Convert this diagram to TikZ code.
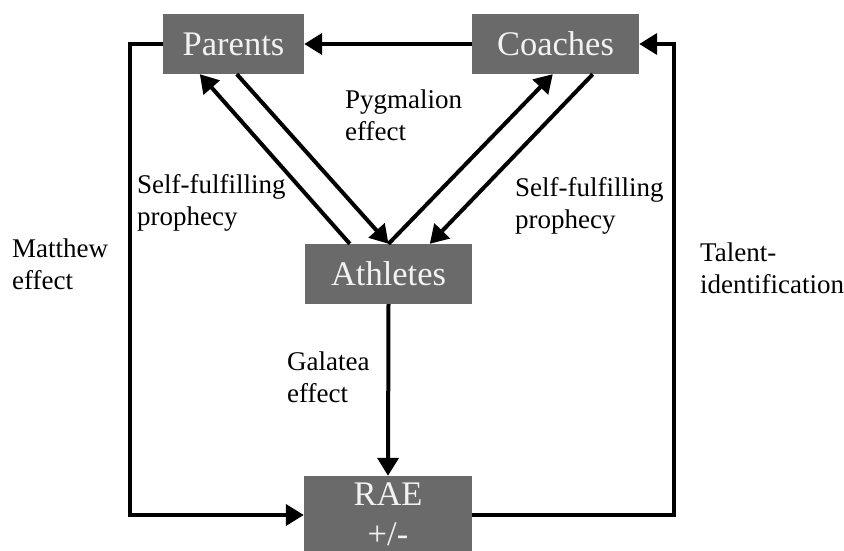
\documentclass[tikz,border=0pt]{standalone}
\usepackage{fontspec}
\setmainfont{Liberation Serif}
\newfontfamily\figserif{Liberation Serif}
\usetikzlibrary{arrows.meta}
\definecolor{boxgray}{HTML}{6A6A6A}
\definecolor{boxtext}{HTML}{F2F2F2}
\begin{document}
\begin{tikzpicture}[x=1pt,y=-1pt,
  box/.style={fill=boxgray,text=boxtext,inner sep=0pt,minimum height=60pt,
    font=\figserif\fontsize{34.5}{40}\selectfont,align=center},
  lbl/.style={inner sep=0pt,align=left,anchor=base west,
    font=\figserif\fontsize{27}{32}\selectfont},
  arr/.style={line width=4pt,-{Triangle[length=18pt,width=21pt]}}]
\useasboundingbox (0,0) rectangle (844,551);
% boxes
\node[box,minimum width=141pt] (parents)  at (233.5,44) {Parents};
\node[box,minimum width=167pt] (coaches)  at (555.5,44) {Coaches};
\node[box,minimum width=167pt] (athletes) at (388.5,274) {Athletes};
\node[box,minimum width=168pt,minimum height=76pt] (rae) at (388,514) {RAE\\+/-};
% connectors
\draw[arr] (coaches.west) -- (parents.east);
\draw[arr] ([xshift=45pt]athletes.north west) -- ([xshift=37pt]parents.south west);
\draw[arr] ([xshift=74pt]parents.south west) -- (athletes.north);
\draw[arr] (athletes.north) -- ([xshift=81pt]coaches.south west);
\draw[arr] ([xshift=121pt]coaches.south west) -- ([xshift=125pt]athletes.north west);
\draw[arr] (athletes.south) -- (rae.north);
\draw[arr] (parents.west) -- ++(-33,0) |- ([yshift=-1pt]rae.west);
\draw[arr] (rae.east) ++(0,1) -- ++(202,0) |- (coaches.east);
% labels (anchored at the baseline of the last line)
\node[lbl] (pyg) at (345,140) {Pygmalion\\effect};
\node[lbl] (sfl) at (137,225) {Self-fulfilling\\prophecy};
\node[lbl] (sfr) at (515,228) {Self-fulfilling\\prophecy};
\node[lbl] (mat) at (12,289) {Matthew\\effect};
\node[lbl] (tal) at (700,293) {Talent-\\identification};
\node[lbl] (gal) at (287,402) {Galatea\\effect};
\end{tikzpicture}
\end{document}
